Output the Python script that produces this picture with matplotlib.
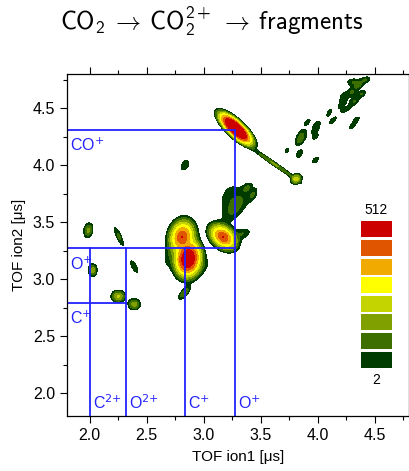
import numpy as np
import matplotlib
matplotlib.use("Agg")
import matplotlib.pyplot as plt

plt.rcParams['mathtext.fontset'] = 'custom'
plt.rcParams['mathtext.rm'] = 'cmss10'
plt.rcParams['mathtext.it'] = 'cmss10'
plt.rcParams['mathtext.bf'] = 'cmss10'
plt.rcParams['mathtext.sf'] = 'cmss10'
plt.rcParams['mathtext.default'] = 'rm'
plt.rcParams['font.family'] = ['Liberation Sans', 'DejaVu Sans']
plt.rcParams['axes.unicode_minus'] = False

# ---- data: coincidence islands (centre x, centre y, half-length, half-width, angle, peak counts)
blob_x = [3.28, 3.62, 3.81, 2.862, 2.81, 3.17, 3.28, 3.34, 2.83, 2.835,
          1.987, 2.255, 2.025, 2.39, 2.25, 2.39,
          4.31, 4.356, 4.42, 4.30, 4.385, 4.22, 4.32, 4.21, 4.25, 4.10, 4.13,
          4.34, 4.30, 3.99, 3.98, 3.91, 3.86, 3.84, 3.98, 3.84, 3.98, 3.73, 3.43, 3.38,
          3.22, 2.72, 2.95]
blob_y = [4.32, 4.01, 3.88, 3.18, 3.37, 3.37, 3.64, 3.40, 2.88, 4.00,
          3.43, 3.375, 3.08, 3.11, 2.85, 2.78,
          4.73, 4.70, 4.75, 4.64, 4.625, 4.60, 4.56, 4.53, 4.49, 4.46, 4.39,
          4.40, 4.34, 4.36, 4.31, 4.38, 4.26, 4.22, 4.25, 4.10, 4.045, 4.13, 3.74, 3.80,
          3.74, 3.22, 3.10]
blob_a = [0.245, 0.24, 0.055, 0.21, 0.19, 0.17, 0.15, 0.06, 0.07, 0.045,
          0.065, 0.085, 0.055, 0.055, 0.065, 0.055,
          0.045, 0.035, 0.035, 0.04, 0.035, 0.03, 0.035, 0.03, 0.035, 0.03, 0.035,
          0.025, 0.025, 0.025, 0.03, 0.025, 0.05, 0.035, 0.025, 0.035, 0.03, 0.02, 0.045, 0.035,
          0.06, 0.08, 0.07]
blob_b = [0.085, 0.016, 0.045, 0.15, 0.14, 0.115, 0.07, 0.035, 0.028, 0.028,
          0.04, 0.02, 0.04, 0.02, 0.055, 0.05,
          0.025, 0.02, 0.02, 0.025, 0.02, 0.016, 0.02, 0.013, 0.013, 0.013, 0.013,
          0.013, 0.013, 0.013, 0.013, 0.013, 0.03, 0.02, 0.013, 0.02, 0.017, 0.012, 0.022, 0.022,
          0.035, 0.04, 0.04]
blob_angle = [-43, -35, 30, 82, 78, -40, 55, 20, 50, 60,
              80, -65, 90, -60, 0, 0,
              0, 30, 20, 40, 30, 60, 30, 45, 30, 60, 45,
              45, 45, 45, 45, 45, 60, 60, 45, 60, 45, 45, 60, 45,
              60, 60, 30]
blob_peak = [3000, 9, 25, 1000, 260, 260, 6, 4, 8, 4,
             10, 5, 12, 4, 18, 12,
             4, 4, 4, 4, 4, 3, 4, 3, 3, 3, 3,
             3, 3, 3, 3, 3, 4, 4, 3, 4, 3, 3, 4, 4,
             3, 3, 3]

# ion time-of-flight marker lines
vline_x = [2.0, 2.315, 2.835, 3.27]
vline_top = [3.27, 3.27, 3.27, 4.31]
hline_y = [4.31, 3.27, 2.795]
hline_right = [3.27, 3.27, 2.315]
bottom_labels = ["C$^{2{+}}$", "O$^{2{+}}$", "C$^{{+}}$", "O$^{{+}}$"]
left_labels = ["CO$^{{+}}$", "O$^{{+}}$", "C$^{{+}}$"]

levels = [2, 4, 8, 16, 32, 64, 128, 256, 512]
colors = ["#003c00", "#3c6e00", "#80a000", "#c4d400", "#ffff00", "#f0aa00", "#e05500", "#cc0000"]

# ---- build map
gx = np.linspace(1.8, 4.8, 700)
gy = np.linspace(1.8, 4.8, 700)
X, Y = np.meshgrid(gx, gy)
Z = np.zeros_like(X)
for x0, y0, a, b, ang, A in zip(blob_x, blob_y, blob_a, blob_b, blob_angle, blob_peak):
    t = np.deg2rad(ang)
    u = (X - x0) * np.cos(t) + (Y - y0) * np.sin(t)
    v = -(X - x0) * np.sin(t) + (Y - y0) * np.cos(t)
    d = np.sqrt((u / a) ** 2 + (v / b) ** 2)
    Z += A * np.exp(-np.log(A / 2.0) * d ** 1.5)

W, H = 410, 471
fig = plt.figure(figsize=(W / 100, H / 100), dpi=100)
ax = fig.add_axes([67 / W, (H - 416) / H, 342 / W, 342 / H])

ax.contourf(X, Y, Z, levels=levels[:-1] + [1e6], colors=colors, antialiased=False)

blue = "#2222ff"
for x, top in zip(vline_x, vline_top):
    ax.plot([x, x], [1.8, top], color=blue, lw=1.3)
for y, right in zip(hline_y, hline_right):
    ax.plot([1.8, right], [y, y], color=blue, lw=1.3)

lab_kw = dict(color=blue, fontsize=11.5, va='center', ha='left', math_fontfamily='dejavusans')
for x, lab in zip(vline_x, bottom_labels):
    ax.text(x + 0.03, 1.915, lab, **lab_kw)
for y, lab in zip(hline_y, left_labels):
    ax.text(1.83, y - 0.14, lab, **lab_kw)

ax.set_xlim(1.8, 4.8)
ax.set_ylim(1.8, 4.8)
ax.set_xticks([2.0, 2.5, 3.0, 3.5, 4.0, 4.5])
ax.set_yticks([2.0, 2.5, 3.0, 3.5, 4.0, 4.5])
ax.set_xticks(np.arange(2.25, 4.8, 0.5), minor=True)
ax.set_yticks(np.arange(2.25, 4.8, 0.5), minor=True)
ax.xaxis.set_major_formatter(matplotlib.ticker.FormatStrFormatter('%.1f'))
ax.yaxis.set_major_formatter(matplotlib.ticker.FormatStrFormatter('%.1f'))
ax.tick_params(which='both', direction='out', top=True, right=True, labelsize=11.5, width=0.8)
ax.tick_params(which='major', length=5)
ax.tick_params(which='minor', length=3)
for s in ax.spines.values():
    s.set_linewidth(0.9)
ax.set_xlabel("TOF ion1 [μs]", fontsize=11, labelpad=5)
ax.set_ylabel("TOF ion2 [μs]", fontsize=11, labelpad=5)

fig.text(212 / W, 1 - 21 / H,
         r"CO$_2\;\rightarrow\;$CO$_2^{2+}\;\rightarrow\;$fragments",
         fontsize=18, family='cmss10', math_fontfamily='custom', ha='center', va='center')

# discrete colour key
cax = fig.add_axes([361 / W, (H - 369) / H, 31 / W, 149 / H])
cax.barh(np.arange(len(colors)), [1] * len(colors), height=0.86, color=colors, left=0)
cax.set_ylim(-0.5, len(colors) - 0.5)
cax.set_xlim(0, 1)
cax.axis('off')
cax.text(0.5, len(colors) - 0.5 + 0.55, str(levels[-1]), ha='center', va='center', fontsize=10)
cax.text(0.5, -0.5 - 0.6, str(levels[0]), ha='center', va='center', fontsize=10)

fig.savefig("out.png", dpi=100)
